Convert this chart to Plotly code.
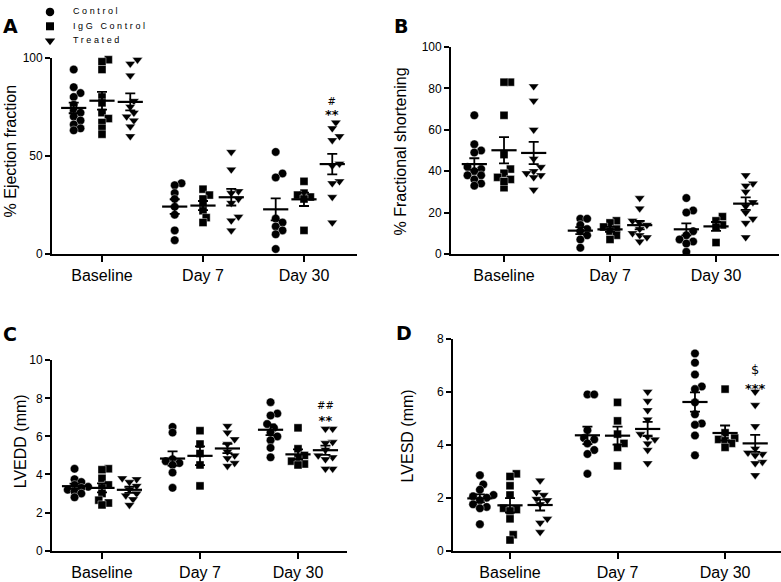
import numpy as np
import plotly.graph_objects as go

W, H = 781, 582
timepoints = ["Baseline", "Day 7", "Day 30"]
groups = ["Control", "IgG Control", "Treated"]

# ---------------- data ----------------
# Panel A: % Ejection fraction  [Baseline, Day 7, Day 30]
ef_control = [[94, 85, 82, 80, 76, 73, 72, 70, 68, 66, 64, 63],
              [36, 35, 31, 28, 24, 20, 12, 7],
              [52, 41, 39, 18, 16, 14, 12, 10, 2.5]]
ef_igg = [[99, 98, 94, 80, 77, 72, 69, 67, 64, 61],
          [33, 30, 28, 25, 22, 18.5, 16],
          [37, 31, 30, 29, 28, 12]]
ef_treated = [[97, 99, 91, 78, 75, 72, 70, 68, 65, 60],
              [52, 43, 32, 31, 28, 26, 19, 17, 12],
              [67, 64, 60, 58, 46, 45, 37, 36, 29, 16]]

# Panel B: % Fractional shortening
fs_control = [[67, 53, 50, 49, 42, 41, 40, 38, 38, 36, 34, 33],
              [17, 17, 14, 12, 11, 9, 7, 3],
              [27, 21, 20, 11, 9, 7, 6, 5, 1]]
fs_igg = [[83, 83, 67, 48, 41, 39, 37, 36, 32, 35],
          [16, 15, 13, 12, 11, 9, 7],
          [18, 16, 14, 13, 5.5]]
fs_treated = [[81, 74, 60, 46, 42, 40, 39, 38, 37, 31],
              [27, 22, 16, 15, 14, 12, 10, 9, 8, 6],
              [38, 34, 33, 30, 25, 23, 20, 17, 15, 8]]

# Panel C: LVEDD (mm)
lvedd_control = [[4.3, 3.75, 3.6, 3.45, 3.35, 3.3, 3.2, 3.1, 3.0, 2.8],
                 [6.5, 6.2, 4.8, 4.7, 4.6, 4.5, 4.1, 3.3],
                 [7.8, 7.2, 7.1, 6.65, 6.45, 6.2, 6.0, 5.8, 5.4, 4.9]]
lvedd_igg = [[4.3, 4.25, 3.8, 3.45, 3.3, 3.0, 2.65, 2.5, 2.4],
             [6.3, 5.6, 5.1, 4.5, 3.4],
             [6.45, 5.35, 5.0, 4.85, 4.7, 4.55, 4.5]]
lvedd_treated = [[3.8, 3.75, 3.6, 3.4, 3.2, 3.0, 2.9, 2.7, 2.4],
                 [6.55, 6.2, 5.85, 5.6, 5.2, 5.0, 4.85, 4.6, 4.45],
                 [6.4, 6.4, 5.7, 5.65, 5.3, 5.0, 4.9, 4.8, 4.3, 4.3]]

# Panel D: LVESD (mm)
lvesd_control = [[2.85, 2.5, 2.3, 2.1, 2.05, 2.0, 1.9, 1.75, 1.65, 1.6, 1.0],
                 [5.9, 5.9, 4.55, 4.25, 4.2, 4.05, 3.8, 3.65, 2.9],
                 [7.45, 7.1, 6.65, 6.2, 6.1, 5.6, 5.15, 4.8, 4.75, 4.35, 3.6]]
lvesd_igg = [[2.9, 2.8, 2.45, 2.1, 1.6, 1.55, 1.5, 1.2, 0.6, 0.4],
             [5.6, 4.9, 4.4, 4.05, 3.9, 3.2],
             [6.1, 4.45, 4.25, 4.2, 4.15, 4.05, 3.9]]
lvesd_treated = [[2.65, 2.2, 2.1, 1.95, 1.9, 1.75, 1.2, 1.05, 0.7],
                 [6.0, 5.65, 5.3, 4.95, 4.4, 4.3, 4.2, 4.05, 3.8, 3.3],
                 [6.0, 5.5, 4.7, 3.85, 3.7, 3.65, 3.6, 3.35, 3.3, 2.85]]

# significance marks above Day 30 Treated: (upper symbol, lower symbol, y value of centre)
sig_a = ("#", "**", 74.0)
sig_c = ("##", "**", 7.17)
sig_d = ("$", "***", 6.5)

# ---------------- styling / layout ----------------
FONT = "Liberation Sans, Arial, Helvetica, sans-serif"
symbols = ["circle", "square", "triangle-down"]
msizes = [8.5, 8, 9]
group_offsets = [-0.28, 0.0, 0.28]

panels = [
    dict(letter="A", data=[ef_control, ef_igg, ef_treated], ytitle="% Ejection fraction",
         ymax=100, yticks=[0, 50, 100], px=(52, 357), py=(52, 253), xr=(0.505, 3.525),
         title_xy=(10, 148), letter_xy=(1, 6), sig=sig_a, sig_gap=11, sig_top=10),
    dict(letter="B", data=[fs_control, fs_igg, fs_treated], ytitle="% Fractional shortening",
         ymax=100, yticks=[0, 20, 40, 60, 80, 100], px=(451, 779), py=(41, 253), xr=(0.5, 3.594),
         title_xy=(400, 148), letter_xy=(392, 6), sig=None),
    dict(letter="C", data=[lvedd_control, lvedd_igg, lvedd_treated], ytitle="LVEDD (mm)",
         ymax=10, yticks=[0, 2, 4, 6, 8, 10], px=(52, 347), py=(362, 557), xr=(0.49, 3.5),
         title_xy=(20, 445), letter_xy=(1, 322), sig=sig_c, sig_gap=12.6, sig_top=10),
    dict(letter="D", data=[lvesd_control, lvesd_igg, lvesd_treated], ytitle="LVESD (mm)",
         ymax=8, yticks=[0, 2, 4, 6, 8], px=(453, 781), py=(340, 557), xr=(0.47, 3.52),
         title_xy=(407, 440), letter_xy=(394, 321), sig=sig_d, sig_gap=14.9, sig_top=13),
]


def swarm(vals, xppu, yppu, diam):
    """simple beeswarm: returns horizontal offsets (data units) limiting overlap"""
    idx = np.argsort(vals)
    placed = []
    out = np.zeros(len(vals))
    step = diam * 0.4
    for i in idx:
        y = vals[i] * yppu
        k = 0
        while True:
            cands = [0.0] if k == 0 else [k * step, -k * step]
            done = False
            for dx in cands:
                if all((dx - px) ** 2 + (y - py) ** 2 >= (0.68 * diam) ** 2 for px, py in placed):
                    placed.append((dx, y))
                    out[i] = dx / xppu
                    done = True
                    break
            if done:
                break
            k += 1
    return out


fig = go.Figure()
annotations = []
layout_axes = {}

for p_i, P in enumerate(panels):
    n = p_i + 1
    xa = "x" if n == 1 else f"x{n}"
    ya = "y" if n == 1 else f"y{n}"
    xkey = "xaxis" if n == 1 else f"xaxis{n}"
    ykey = "yaxis" if n == 1 else f"yaxis{n}"
    x0, x1 = P["px"]
    ytop, ybot = P["py"]
    xppu = (x1 - x0) / (P["xr"][1] - P["xr"][0])
    yppu = (ybot - ytop) / P["ymax"]

    layout_axes[xkey] = dict(
        domain=[x0 / W, x1 / W], range=list(P["xr"]), anchor=ya,
        tickvals=[1, 2, 3], ticktext=timepoints, showline=True, linecolor="black",
        linewidth=1.8, ticks="outside", ticklen=6, tickwidth=1.8, tickcolor="black",
        showgrid=False, zeroline=False, tickfont=dict(size=16, color="black", family=FONT),
        fixedrange=True)
    layout_axes[ykey] = dict(
        domain=[1 - ybot / H, 1 - ytop / H], range=[0, P["ymax"]], anchor=xa,
        tickvals=P["yticks"], showline=True, linecolor="black", linewidth=1.8,
        ticks="outside", ticklen=5, tickwidth=1.8, tickcolor="black",
        showgrid=False, zeroline=False, tickfont=dict(size=12, color="black", family=FONT),
        fixedrange=True)

    for g_i, gdata in enumerate(P["data"]):
        xs, ys = [], []
        means, sems, mx = [], [], []
        for t_i, vals in enumerate(gdata):
            v = np.array(vals, dtype=float)
            off = swarm(v, xppu, yppu, msizes[g_i])
            cx = t_i + 1 + group_offsets[g_i]
            xs.extend(cx + off)
            ys.extend(v)
            mx.append(cx)
            means.append(v.mean())
            sems.append(v.std(ddof=1) / np.sqrt(len(v)))
        fig.add_trace(go.Scatter(
            x=xs, y=ys, xaxis=xa, yaxis=ya, mode="markers", showlegend=False,
            cliponaxis=False, name=groups[g_i],
            marker=dict(symbol=symbols[g_i], size=msizes[g_i], color="black",
                        line=dict(color="white", width=0.4))))
        fig.add_trace(go.Scatter(
            x=mx, y=means, xaxis=xa, yaxis=ya, mode="markers", showlegend=False,
            cliponaxis=False, hoverinfo="skip",
            marker=dict(symbol="line-ew", size=18, color="black",
                        line=dict(color="black", width=2.2)),
            error_y=dict(type="data", array=sems, visible=True, width=5,
                         thickness=1.8, color="black")))

    # significance marks (one text block: small symbol over asterisks)
    if P["sig"]:
        top, bottom, yv = P["sig"]
        annotations.append(dict(
            x=3 + group_offsets[2], y=yv, xref=xa, yref=ya,
            text=('<span style="font-size:%dpx">%s</span><br>'
                  '<span style="font-size:13px"><b>%s</b></span>') % (P["sig_top"], top, bottom),
            showarrow=False, font=dict(size=P["sig_gap"], color="black", family="DejaVu Sans"),
            xanchor="center", yanchor="middle"))

    # y title
    tx, ty = P["title_xy"]
    annotations.append(dict(
        x=tx / W, y=1 - ty / H, xref="paper", yref="paper", text=P["ytitle"],
        textangle=-90, showarrow=False, xanchor="center", yanchor="middle",
        font=dict(size=16, color="black", family=FONT)))
    # panel letter
    lx, ly = P["letter_xy"]
    annotations.append(dict(
        x=lx / W, y=1 - ly / H, xref="paper", yref="paper", text="<b>%s</b>" % P["letter"],
        showarrow=False, xanchor="left", yanchor="top",
        font=dict(size=19, color="black", family="DejaVu Sans, " + FONT)))

# ---------------- key (top left) ----------------
layout_axes["xaxis5"] = dict(domain=[50 / W, 73 / W], range=[0, 1], anchor="y5",
                             visible=False, fixedrange=True)
layout_axes["yaxis5"] = dict(domain=[1 - 34.5 / H, 1 - 5 / H], range=[0, 2], anchor="x5",
                             type="category", categoryorder="array",
                             categoryarray=groups[::-1], visible=False, fixedrange=True)
for g_i, g in enumerate(groups):
    fig.add_trace(go.Scatter(
        x=[0], y=[g], xaxis="x5", yaxis="y5", mode="markers", showlegend=False,
        cliponaxis=False, hoverinfo="skip",
        marker=dict(symbol=symbols[g_i], size=msizes[g_i], color="black")))
fig.add_trace(go.Scatter(
    x=[1] * 3, y=groups, xaxis="x5", yaxis="y5", mode="text", showlegend=False,
    cliponaxis=False, hoverinfo="skip",
    text=['<span style="letter-spacing:2.6px">%s</span>' % g for g in groups],
    textposition="middle right", textfont=dict(size=9, color="black", family=FONT)))

fig.update_layout(
    width=W, height=H, margin=dict(l=0, r=0, t=0, b=0),
    paper_bgcolor="white", plot_bgcolor="white",
    annotations=annotations, showlegend=False, **layout_axes)

fig.write_html("out.html", config={"displayModeBar": False},
               post_script="document.body.style.margin='0';document.body.style.overflow='hidden';")
